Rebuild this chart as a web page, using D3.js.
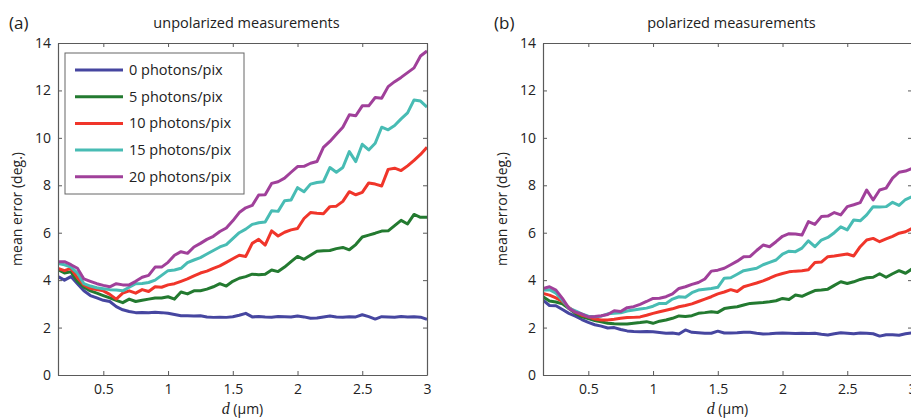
<!DOCTYPE html>
<html>
<head>
<meta charset="utf-8">
<script src="https://cdn.jsdelivr.net/npm/d3@7"></script>
<style>
  body { margin: 0; background: #fff; }
  svg { display: block; font-family: "Open Sans", sans-serif; }
</style>
</head>
<body>
<div id="chart"></div>
<script>
// d in micrometres, 0.15 .. 3.0 every 0.05
const dValues = d3.range(58).map(i => +(0.15 + i * 0.05).toFixed(2))

const seriesNames = ["0 photons/pix", "5 photons/pix", "10 photons/pix", "15 photons/pix", "20 photons/pix"]
const seriesColors = ["#4646a0", "#237a30", "#f0352a", "#48bcb4", "#a0409a"]

const xTicks = [0.5, 1, 1.5, 2, 2.5, 3]
const yTicks = [0, 2, 4, 6, 8, 10, 12, 14]

// panel (a) unpolarized
const unpol0 = [4.15, 4.0, 4.15, 3.85, 3.55, 3.35, 3.25, 3.15, 3.1, 2.88, 2.75, 2.68, 2.63, 2.64, 2.63, 2.65, 2.63, 2.6, 2.55, 2.5, 2.5, 2.49, 2.5, 2.45, 2.43, 2.44, 2.43, 2.46, 2.52, 2.6, 2.45, 2.47, 2.45, 2.44, 2.47, 2.46, 2.45, 2.49, 2.45, 2.39, 2.4, 2.45, 2.49, 2.45, 2.44, 2.46, 2.45, 2.54, 2.46, 2.36, 2.46, 2.45, 2.44, 2.47, 2.45, 2.46, 2.44, 2.35]
const unpol5 = [4.45, 4.3, 4.35, 3.95, 3.7, 3.55, 3.45, 3.35, 3.25, 3.15, 3.05, 3.2, 3.1, 3.15, 3.2, 3.25, 3.25, 3.3, 3.2, 3.5, 3.42, 3.55, 3.55, 3.62, 3.72, 3.85, 3.75, 3.95, 4.08, 4.15, 4.25, 4.23, 4.25, 4.43, 4.36, 4.55, 4.78, 5.0, 4.88, 5.05, 5.22, 5.24, 5.25, 5.33, 5.38, 5.28, 5.5, 5.82, 5.9, 5.98, 6.07, 6.08, 6.3, 6.52, 6.37, 6.77, 6.65, 6.65]
const unpol10 = [4.5, 4.4, 4.5, 4.1, 3.8, 3.65, 3.6, 3.55, 3.4, 3.2, 3.45, 3.55, 3.45, 3.6, 3.52, 3.72, 3.7, 3.8, 3.85, 3.95, 4.05, 4.18, 4.3, 4.38, 4.5, 4.6, 4.75, 4.9, 5.05, 5.0, 5.55, 5.72, 5.48, 6.08, 5.86, 6.02, 6.12, 6.18, 6.6, 6.85, 6.82, 6.8, 7.1, 7.12, 7.32, 7.73, 7.6, 7.7, 8.1, 8.05, 7.97, 8.67, 8.72, 8.62, 8.82, 9.05, 9.3, 9.6]
const unpol15 = [4.7, 4.65, 4.55, 4.3, 3.85, 3.75, 3.68, 3.64, 3.6, 3.58, 3.55, 3.7, 3.85, 3.86, 3.9, 4.0, 4.2, 4.4, 4.43, 4.5, 4.74, 4.85, 4.95, 5.1, 5.25, 5.4, 5.5, 5.75, 6.0, 6.15, 6.35, 6.42, 6.45, 6.93, 6.9, 7.35, 7.38, 7.9, 7.73, 8.05, 8.12, 8.15, 8.75, 8.55, 8.75, 9.42, 9.0, 9.73, 9.49, 9.77, 10.45, 10.34, 10.52, 10.8, 11.05, 11.6, 11.55, 11.3]
const unpol20 = [4.78, 4.78, 4.65, 4.5, 4.05, 3.95, 3.85, 3.78, 3.72, 3.85, 3.8, 3.8, 3.95, 4.12, 4.2, 4.55, 4.55, 4.75, 5.05, 5.2, 5.13, 5.4, 5.55, 5.72, 5.85, 6.05, 6.2, 6.5, 6.85, 7.05, 7.15, 7.59, 7.6, 8.08, 8.15, 8.3, 8.55, 8.79, 8.8, 8.93, 9.0, 9.6, 9.85, 10.15, 10.45, 10.97, 10.93, 11.35, 11.35, 11.7, 11.67, 12.16, 12.37, 12.55, 12.75, 12.95, 13.45, 13.66]

// panel (b) polarized
const pol0 = [3.16, 2.93, 2.92, 2.76, 2.6, 2.48, 2.34, 2.22, 2.12, 2.06, 1.98, 2.0, 1.92, 1.86, 1.83, 1.82, 1.83, 1.82, 1.79, 1.76, 1.77, 1.73, 1.9, 1.8, 1.78, 1.76, 1.76, 1.85, 1.77, 1.77, 1.78, 1.8, 1.8, 1.76, 1.73, 1.74, 1.76, 1.77, 1.76, 1.75, 1.76, 1.75, 1.76, 1.72, 1.69, 1.74, 1.78, 1.76, 1.74, 1.77, 1.76, 1.74, 1.64, 1.7, 1.7, 1.68, 1.74, 1.78]
const pol5 = [3.3, 3.12, 3.08, 3.0, 2.8, 2.6, 2.45, 2.38, 2.3, 2.24, 2.18, 2.16, 2.15, 2.15, 2.18, 2.21, 2.25, 2.18, 2.27, 2.32, 2.39, 2.49, 2.47, 2.5, 2.6, 2.63, 2.67, 2.64, 2.8, 2.85, 2.88, 2.95, 3.02, 3.04, 3.06, 3.09, 3.13, 3.23, 3.18, 3.37, 3.32, 3.44, 3.56, 3.58, 3.62, 3.78, 3.93, 3.86, 3.93, 4.03, 4.1, 4.12, 4.27, 4.12, 4.27, 4.4, 4.29, 4.47]
const pol10 = [3.44, 3.37, 3.25, 3.1, 2.85, 2.65, 2.52, 2.45, 2.36, 2.32, 2.32, 2.35, 2.39, 2.42, 2.43, 2.45, 2.52, 2.6, 2.67, 2.73, 2.79, 2.88, 2.93, 3.0, 3.1, 3.2, 3.3, 3.42, 3.5, 3.6, 3.52, 3.72, 3.8, 3.88, 3.97, 4.08, 4.2, 4.28, 4.35, 4.38, 4.4, 4.44, 4.74, 4.76, 4.99, 5.02, 5.06, 5.1, 5.02, 5.41, 5.69, 5.76, 5.62, 5.74, 5.85, 5.98, 6.04, 6.18]
const pol15 = [3.58, 3.6, 3.45, 3.15, 2.82, 2.7, 2.58, 2.48, 2.46, 2.48, 2.58, 2.6, 2.62, 2.7, 2.74, 2.78, 2.82, 2.9, 3.02, 3.02, 3.2, 3.3, 3.28, 3.47, 3.58, 3.62, 3.65, 3.7, 4.08, 4.1, 4.25, 4.4, 4.45, 4.5, 4.65, 4.75, 4.85, 5.1, 5.22, 5.2, 5.35, 5.66, 5.41, 5.69, 5.8, 6.0, 6.25, 6.12, 6.54, 6.5, 6.75, 7.1, 7.08, 7.1, 7.28, 7.15, 7.4, 7.52]
const pol20 = [3.65, 3.72, 3.58, 3.23, 2.81, 2.65, 2.57, 2.45, 2.47, 2.5, 2.55, 2.71, 2.68, 2.84, 2.88, 2.98, 3.1, 3.23, 3.24, 3.3, 3.42, 3.65, 3.72, 3.82, 3.9, 4.05, 4.38, 4.42, 4.5, 4.65, 4.8, 4.99, 5.0, 5.25, 5.48, 5.41, 5.62, 5.85, 5.96, 5.95, 5.9, 6.47, 6.35, 6.68, 6.7, 6.85, 6.75, 7.1, 7.18, 7.27, 7.8, 7.38, 7.8, 7.88, 8.3, 8.55, 8.6, 8.71]

const panels = [
    { tag: "(a)", title: "unpolarized measurements", left: 58, right: 427, series: [unpol0, unpol5, unpol10, unpol15, unpol20], legend: true },
    { tag: "(b)", title: "polarized measurements", left: 543, right: 912, series: [pol0, pol5, pol10, pol15, pol20], legend: false },
]

const width = 911
const height = 418
const plotTop = 43
const plotBottom = 375
const axisColor = "#5a5a5a"

const svg = d3.select("#chart")
    .append("svg")
    .attr("width", width)
    .attr("height", height)

panels.forEach((p, pi) => {
    const x = d3.scaleLinear().domain([0.15, 3]).range([p.left, p.right])
    const y = d3.scaleLinear().domain([0, 14]).range([plotBottom, plotTop])

    const g = svg.append("g")

    // clip to the plot box
    const clipId = "clip" + pi
    g.append("clipPath").attr("id", clipId)
        .append("rect")
        .attr("x", p.left).attr("y", plotTop)
        .attr("width", p.right - p.left).attr("height", plotBottom - plotTop)

    const line = d3.line()
        .x((d, i) => x(dValues[i]))
        .y(d => y(d))

    g.append("g")
        .attr("clip-path", `url(#${clipId})`)
        .selectAll("path")
        .data(p.series)
        .join("path")
        .attr("fill", "none")
        .attr("stroke", (d, i) => seriesColors[i])
        .attr("stroke-width", 3)
        .attr("stroke-linejoin", "round")
        .attr("d", line)

    // axes, ticks pointing inward
    const bottomAxis = g.append("g")
        .attr("transform", `translate(0,${plotBottom})`)
        .call(d3.axisBottom(x).tickValues(xTicks).tickFormat(d3.format("")).tickSize(-4).tickSizeOuter(0).tickPadding(9))
    const leftAxis = g.append("g")
        .attr("transform", `translate(${p.left},0)`)
        .call(d3.axisLeft(y).tickValues(yTicks).tickSize(-4).tickSizeOuter(0).tickPadding(7))
    const topAxis = g.append("g")
        .attr("transform", `translate(0,${plotTop})`)
        .call(d3.axisTop(x).tickValues(xTicks).tickFormat("").tickSize(-4).tickSizeOuter(0))
    const rightAxis = g.append("g")
        .attr("transform", `translate(${p.right},0)`)
        .call(d3.axisRight(y).tickValues(yTicks).tickFormat("").tickSize(-4).tickSizeOuter(0))

    ;[bottomAxis, leftAxis, topAxis, rightAxis].forEach(a => {
        a.selectAll(".domain").attr("stroke", axisColor).attr("stroke-width", 1.2)
        a.selectAll(".tick line").attr("stroke", axisColor)
        a.selectAll("text")
            .style("font-family", "Open Sans, sans-serif")
            .style("font-size", "14px")
            .attr("fill", "#222")
    })

    // labels
    g.append("text")
        .attr("x", p.left - 49)
        .attr("y", 29)
        .style("font-size", "17px")
        .attr("fill", "#222")
        .text(p.tag)

    g.append("text")
        .attr("x", (p.left + Math.min(p.right, 912)) / 2 + 4)
        .attr("y", 28)
        .attr("text-anchor", "middle")
        .style("font-size", "14.5px")
        .attr("fill", "#222")
        .text(p.title)

    g.append("text")
        .attr("transform", `translate(${p.left - 36},${(plotTop + plotBottom) / 2}) rotate(-90)`)
        .attr("text-anchor", "middle")
        .style("font-size", "14px")
        .attr("fill", "#222")
        .text("mean error (deg.)")

    const xlab = g.append("text")
        .attr("x", (p.left + p.right) / 2)
        .attr("y", 414)
        .attr("text-anchor", "middle")
        .style("font-size", "14px")
        .attr("fill", "#222")
    xlab.append("tspan")
        .style("font-family", "Liberation Serif, serif")
        .style("font-style", "italic")
        .style("font-size", "16px")
        .text("d")
    xlab.append("tspan").text(" (μm)")

    if (p.legend) {
        const lg = svg.append("g").attr("class", "legend")
        lg.append("rect")
            .attr("x", 65).attr("y", 53)
            .attr("width", 179).attr("height", 141)
            .attr("fill", "#fff")
            .attr("stroke", "#666")
            .attr("stroke-width", 1)

        const items = lg.selectAll(".legend-item")
            .data(seriesNames)
            .join("g")
            .attr("class", "legend-item")
            .attr("transform", (d, i) => `translate(75, ${70 + i * 26.7})`)

        items.append("line")
            .attr("x1", 0).attr("x2", 48)
            .attr("stroke", (d, i) => seriesColors[i])
            .attr("stroke-width", 3)

        items.append("text")
            .attr("x", 54)
            .attr("dy", "0.35em")
            .style("font-size", "14.5px")
            .attr("fill", "#222")
            .text(d => d)
    }
})
</script>
</body>
</html>
